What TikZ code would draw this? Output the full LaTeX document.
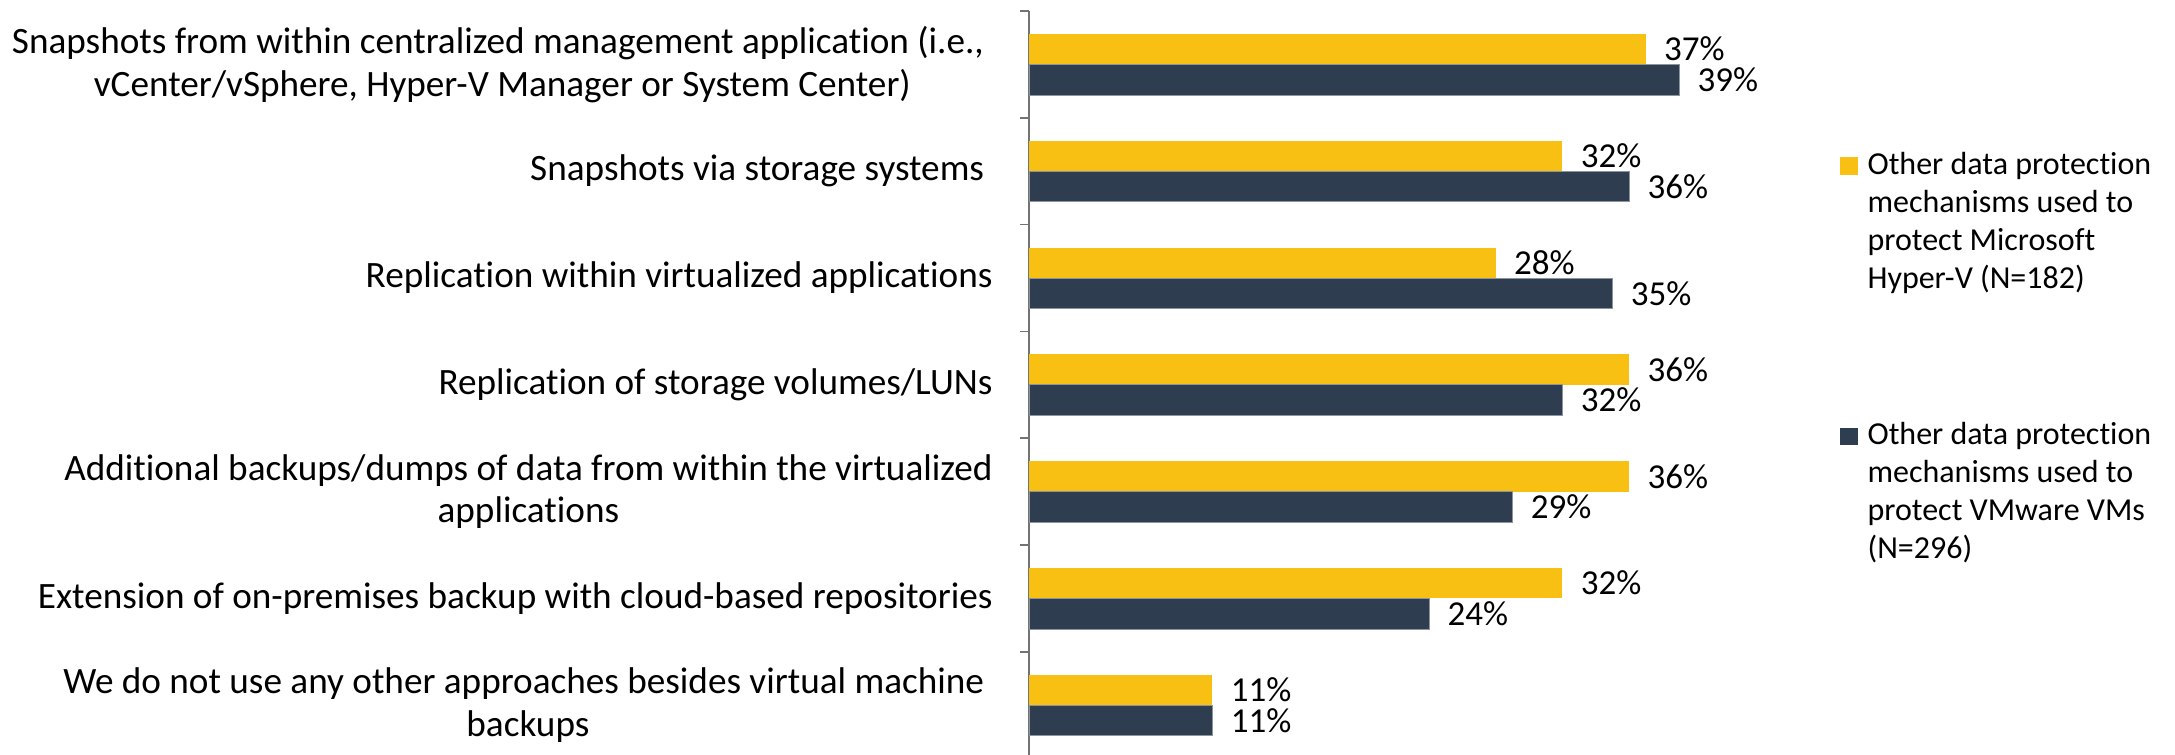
\documentclass[tikz,border=0pt]{standalone}
\usepackage{fontspec}
\setmainfont[Ligatures=NoCommon]{Carlito}
\usepackage{tikz}

\definecolor{hvyellow}{RGB}{248,192,18}
\definecolor{vmslate}{RGB}{46,62,80}

\begin{document}
\begin{tikzpicture}[x=0.5pt,y=-0.5pt]
  \tikzstyle{catlabel}=[anchor=east, align=center, inner sep=0pt, font=\fontsize{18.6}{21.2}\selectfont]
  \tikzstyle{pct}=[anchor=west, inner sep=0pt, font=\fontsize{17.5}{21}\selectfont]
  \tikzstyle{hvbar}=[fill=hvyellow]
  \tikzstyle{vmbar}=[fill=vmslate, draw=vmslate!55!white, line width=0.4pt]
  \tikzstyle{legkey}=[minimum size=8.75pt, inner sep=0pt]
  \tikzstyle{legtext}=[anchor=north west, align=left, inner sep=0pt, font=\fontsize{16}{19}\selectfont]
  \tikzstyle{axis}=[draw=black!55, line width=0.75pt]

  \useasboundingbox (0,0) rectangle (2175,755);

  % category labels
  \node[catlabel] (cat1) at (993,64.4) {Snapshots from within centralized management application (i.e.,\hspace*{.23em}\\vCenter/vSphere, Hyper-V Manager or System Center)};
  \node[catlabel] (cat2) at (993,171.2) {Snapshots via storage systems\hspace*{.23em}};
  \node[catlabel] (cat3) at (993,278.0) {Replication within virtualized applications};
  \node[catlabel] (cat4) at (993,384.8) {Replication of storage volumes/LUNs};
  \node[catlabel] (cat5) at (993,491.6) {Additional backups/dumps of data from within the virtualized\\applications};
  \node[catlabel] (cat6) at (993,598.4) {Extension of on-premises backup with cloud-based repositories};
  \node[catlabel] (cat7) at (993,705.2) {We do not use any other approaches besides virtual machine\hspace*{.23em}\\backups};

  % axis and ticks
  \draw[axis] (1029,11) -- (1029,760)
    (1020,11) -- (1029,11) (1020,117.8) -- (1029,117.8)
    (1020,224.6) -- (1029,224.6) (1020,331.4) -- (1029,331.4)
    (1020,438.2) -- (1029,438.2) (1020,545) -- (1029,545)
    (1020,651.8) -- (1029,651.8) (1020,758.6) -- (1029,758.6);

  % bars
  \fill[hvbar] (1029,33.9) rectangle (1645.8,64.4);
  \filldraw[vmbar] (1029,64.4) rectangle (1679.1,94.9);
  \fill[hvbar] (1029,140.7) rectangle (1562.4,171.2);
  \filldraw[vmbar] (1029,171.2) rectangle (1629.1,201.7);
  \fill[hvbar] (1029,247.5) rectangle (1495.8,278.0);
  \filldraw[vmbar] (1029,278.0) rectangle (1612.5,308.5);
  \fill[hvbar] (1029,354.3) rectangle (1629.1,384.8);
  \filldraw[vmbar] (1029,384.8) rectangle (1562.4,415.3);
  \fill[hvbar] (1029,461.1) rectangle (1629.1,491.6);
  \filldraw[vmbar] (1029,491.6) rectangle (1512.4,522.1);
  \fill[hvbar] (1029,567.9) rectangle (1562.4,598.4);
  \filldraw[vmbar] (1029,598.4) rectangle (1429.1,628.9);
  \fill[hvbar] (1029,674.7) rectangle (1212.4,705.2);
  \filldraw[vmbar] (1029,705.2) rectangle (1212.4,735.7);

  % value labels
  \node[pct] (hv1) at (1663.8,49.15) {37\%};
  \node[pct] (vm1) at (1697.1,79.65) {39\%};
  \node[pct] (hv2) at (1580.4,155.95) {32\%};
  \node[pct] (vm2) at (1647.1,186.45) {36\%};
  \node[pct] (hv3) at (1513.8,262.75) {28\%};
  \node[pct] (vm3) at (1630.5,293.25) {35\%};
  \node[pct] (hv4) at (1647.1,369.55) {36\%};
  \node[pct] (vm4) at (1580.4,400.05) {32\%};
  \node[pct] (hv5) at (1647.1,476.35) {36\%};
  \node[pct] (vm5) at (1530.4,506.85) {29\%};
  \node[pct] (hv6) at (1580.4,583.15) {32\%};
  \node[pct] (vm6) at (1447.1,613.65) {24\%};
  \node[pct] (hv7) at (1230.4,689.95) {11\%};
  \node[pct] (vm7) at (1230.4,720.45) {11\%};

  % legend
  \node[legkey, fill=hvyellow] (hvkey) at (1849,166) {};
  \node[legtext] (hvtext) at ([xshift=4.5pt,yshift=2.5pt]hvkey.north east) {Other data protection\\mechanisms used to\\protect Microsoft\\Hyper-V (N=182)};

  \node[legkey, fill=vmslate] (vmkey) at (1849,436.5) {};
  \node[legtext] (vmtext) at ([xshift=4.5pt,yshift=2.5pt]vmkey.north east) {Other data protection\\mechanisms used to\\protect VMware VMs\\(N=296)};

\end{tikzpicture}
\end{document}
